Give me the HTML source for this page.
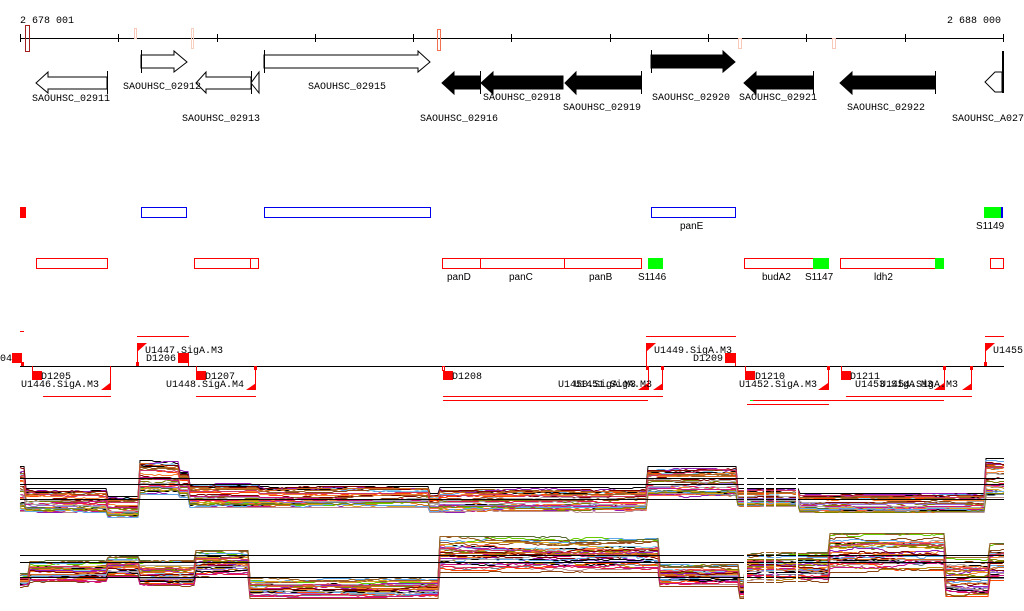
<!DOCTYPE html>
<html><head><meta charset="utf-8"><style>
html,body{margin:0;padding:0;background:#fff;}
svg{display:block;}
text{font-family:"Liberation Mono","DejaVu Sans Mono",monospace;font-size:10px;fill:#000;}
.s{font-family:"Liberation Sans",sans-serif;font-size:10px;}
</style></head><body>
<svg id="sv" width="1024" height="611" viewBox="0 0 1024 611" xmlns="http://www.w3.org/2000/svg">
<text x="20" y="23">2 678 001</text>
<text x="947" y="23">2 688 000</text>
<line x1="20" y1="38.5" x2="1004" y2="38.5" stroke="#000"/>
<g stroke="#000">
<line x1="20.5" y1="34" x2="20.5" y2="42"/><line x1="118.5" y1="34" x2="118.5" y2="42"/><line x1="217.5" y1="34" x2="217.5" y2="42"/><line x1="315.5" y1="34" x2="315.5" y2="42"/><line x1="413.5" y1="34" x2="413.5" y2="42"/><line x1="511.5" y1="34" x2="511.5" y2="42"/><line x1="610.5" y1="34" x2="610.5" y2="42"/><line x1="708.5" y1="34" x2="708.5" y2="42"/><line x1="806.5" y1="34" x2="806.5" y2="42"/><line x1="905.5" y1="34" x2="905.5" y2="42"/><line x1="1003.5" y1="34" x2="1003.5" y2="42"/>
</g>
<rect x="25.5" y="25.5" width="4" height="26" fill="none" stroke="#a02020"/>
<rect x="134.5" y="28.5" width="2" height="10" fill="none" stroke="#f8c8b8"/>
<rect x="191.5" y="28.5" width="2" height="20" fill="none" stroke="#f8d0c0"/>
<rect x="437.5" y="29.5" width="3" height="21" fill="none" stroke="#f07050"/>
<rect x="738.5" y="38.5" width="3" height="10" fill="none" stroke="#f8c8b8"/>
<rect x="832.5" y="38.5" width="3" height="10" fill="none" stroke="#f8c8b8"/>
<g stroke="#000" fill="#fff">
<polygon points="107,77 48,77 48,72 36,83 48,93 48,89 107,89"/><line x1="107.5" y1="71" x2="107.5" y2="94"/>
<polygon points="141,55 174,55 174,51 187,62 174,72 174,68 141,68"/><line x1="141.5" y1="50" x2="141.5" y2="73"/>
<polygon points="251,77 206,77 206,72 196,83 206,93 206,89 251,89"/><line x1="251.5" y1="71" x2="251.5" y2="94"/>
<polygon points="259,72 259,93 251,83"/>
<polygon points="264,55 418,55 418,51 430,62 418,72 418,68 264,68"/><line x1="264.5" y1="50" x2="264.5" y2="73"/>
<polygon points="1002,72 995,72 985,82 995,92 1002,92" /><line x1="1003" y1="51" x2="1003" y2="93" stroke-width="2"/>
</g>
<g fill="#000" stroke="#000">
<polygon points="480,76 454,76 454,72 442,83 454,94 454,89 480,89"/>
<polygon points="563,76 493,76 493,72 481,83 493,94 493,89 563,89"/><line x1="480.5" y1="71" x2="480.5" y2="94"/>
<polygon points="641,76 576,76 576,72 565,83 576,94 576,89 641,89"/><line x1="641.5" y1="71" x2="641.5" y2="94"/>
<polygon points="651,55 723,55 723,51 735,62 723,72 723,68 651,68"/><line x1="651.5" y1="50" x2="651.5" y2="73"/>
<polygon points="813,76 756,76 756,72 744,83 756,94 756,89 813,89"/><line x1="813.5" y1="71" x2="813.5" y2="94"/>
<polygon points="935,76 852,76 852,72 840,83 852,94 852,89 935,89"/><line x1="935.5" y1="71" x2="935.5" y2="94"/>
</g>
<text x="32" y="101">SAOUHSC_02911</text>
<text x="123" y="89">SAOUHSC_02912</text>
<text x="182" y="121">SAOUHSC_02913</text>
<text x="308" y="89">SAOUHSC_02915</text>
<text x="420" y="121">SAOUHSC_02916</text>
<text x="483" y="100">SAOUHSC_02918</text>
<text x="563" y="110">SAOUHSC_02919</text>
<text x="652" y="100">SAOUHSC_02920</text>
<text x="739" y="100">SAOUHSC_02921</text>
<text x="847" y="110">SAOUHSC_02922</text>
<text x="952" y="121">SAOUHSC_A027</text>
<rect x="20" y="207" width="6" height="11" fill="#f00"/>
<g fill="none" stroke="#0000ee">
<rect x="141.5" y="207.5" width="45" height="10"/><rect x="264.5" y="207.5" width="166" height="10"/><rect x="651.5" y="207.5" width="84" height="10"/>
</g>
<rect x="984" y="207" width="18" height="11" fill="#0f0"/><rect x="1001" y="207" width="2" height="11" fill="#00e"/>
<text class="s" x="680" y="229">panE</text><text class="s" x="976" y="229">S1149</text>
<g fill="none" stroke="#f00">
<rect x="36.5" y="258.5" width="71" height="10"/><rect x="194.5" y="258.5" width="56" height="10"/><rect x="250.5" y="258.5" width="8" height="10"/>
<rect x="442.5" y="258.5" width="38" height="10"/><rect x="480.5" y="258.5" width="84" height="10"/><rect x="564.5" y="258.5" width="77" height="10"/>
<rect x="744.5" y="258.5" width="69" height="10"/><rect x="840.5" y="258.5" width="95" height="10"/><rect x="990.5" y="258.5" width="13" height="10"/>
</g>
<g fill="#0f0"><rect x="648" y="258" width="15" height="11"/><rect x="813" y="258" width="16" height="11"/><rect x="935" y="258" width="9" height="11"/></g>
<text class="s" x="447" y="280">panD</text><text class="s" x="509" y="280">panC</text><text class="s" x="589" y="280">panB</text><text class="s" x="638" y="280">S1146</text>
<text class="s" x="762" y="280">budA2</text><text class="s" x="805" y="280">S1147</text><text class="s" x="874" y="280">ldh2</text>
<line x1="20" y1="366.5" x2="1004" y2="366.5" stroke="#000"/>
<g fill="#f00" stroke="none">
<rect x="20" y="331" width="4" height="1"/>
<rect x="12" y="353" width="10" height="10"/><rect x="21" y="362" width="3" height="4"/>
<rect x="32" y="371" width="10" height="9"/>
<polygon points="110,383 110,390 101,390"/>
<rect x="43" y="396" width="68" height="1"/>
<polygon points="137,343 147,343 137,352"/>
<rect x="137" y="336" width="52" height="1"/>
<rect x="178" y="353" width="10" height="10"/>
<rect x="196" y="371" width="10" height="9"/>
<polygon points="256,383 256,390 246,390"/><rect x="254" y="366" width="3" height="4"/><rect x="136" y="362" width="3" height="4"/>
<rect x="196" y="396" width="60" height="1"/>
<rect x="443" y="371" width="10" height="9"/>
<rect x="443" y="396" width="205" height="1"/><rect x="443" y="400" width="205" height="1"/>
<rect x="512" y="396" width="151" height="1"/><rect x="512" y="400" width="136" height="1"/>
<polygon points="646,343 656,343 646,352"/><rect x="646" y="336" width="90" height="1"/>
<rect x="725" y="353" width="10" height="10"/>
<polygon points="648,383 648,390 638,390"/><polygon points="663,383 663,390 653,390"/><rect x="646" y="366" width="3" height="4"/>
<rect x="745" y="371" width="10" height="9"/>
<polygon points="828,383 828,390 818,390"/><rect x="827" y="366" width="3" height="4"/>
<rect x="747" y="404" width="82" height="1"/><rect x="753" y="400" width="191" height="1"/>
<rect x="841" y="371" width="10" height="9"/>
<polygon points="944,383 944,390 934,390"/><polygon points="972,383 972,390 962,390"/><rect x="943" y="366" width="3" height="4"/>
<rect x="846" y="396" width="126" height="1"/>
<polygon points="985,343 995,343 985,352"/><rect x="985" y="336" width="19" height="1"/><rect x="984" y="362" width="3" height="4"/>
</g>
<g stroke="#f00" fill="none">
<line x1="32.5" y1="366" x2="32.5" y2="380"/><line x1="110.5" y1="366" x2="110.5" y2="390"/>
<line x1="137.5" y1="343" x2="137.5" y2="366"/><line x1="188.5" y1="353" x2="188.5" y2="366"/>
<line x1="196.5" y1="366" x2="196.5" y2="380"/><line x1="255.5" y1="366" x2="255.5" y2="390"/>
<rect x="442.5" y="366.5" width="2" height="4"/>
<line x1="646.5" y1="343" x2="646.5" y2="366"/><line x1="735.5" y1="353" x2="735.5" y2="366"/>
<line x1="648.5" y1="366" x2="648.5" y2="390"/><line x1="662.5" y1="366" x2="662.5" y2="390"/><rect x="661.5" y="366.5" width="2" height="3"/>
<line x1="745.5" y1="366" x2="745.5" y2="380"/><line x1="828.5" y1="366" x2="828.5" y2="390"/>
<line x1="841.5" y1="366" x2="841.5" y2="380"/><line x1="944.5" y1="366" x2="944.5" y2="390"/><line x1="971.5" y1="366" x2="971.5" y2="390"/><rect x="970.5" y="366.5" width="2" height="3"/>
<line x1="985.5" y1="343" x2="985.5" y2="366"/>
</g>
<rect x="750" y="400" width="3" height="1" fill="#0f0"/>
<text x="0" y="361">04</text>
<text x="41" y="379">D1205</text><text x="21" y="387">U1446.SigA.M3</text>
<text x="145" y="353">U1447.SigA.M3</text><text x="146" y="361">D1206</text>
<text x="205" y="379">D1207</text><text x="166" y="387">U1448.SigA.M4</text>
<text x="452" y="379">D1208</text>
<text x="654" y="353">U1449.SigA.M3</text><text x="693" y="361">D1209</text>
<text x="558" y="387">U1450.SigA.M3</text><text x="574" y="387">U1451.SigA.M3</text>
<text x="755" y="379">D1210</text><text x="739" y="387">U1452.SigA.M3</text>
<text x="850" y="379">D1211</text><text x="855" y="387">U1453.SigA.M3</text><text x="880" y="387">U1454.SigA.M3</text>
<text x="993" y="353">U1455</text>
<g id="plots"></g>
<g stroke="#000">
<line x1="20" y1="478.5" x2="1004" y2="478.5"/><line x1="20" y1="484.5" x2="1004" y2="484.5"/><line x1="20" y1="499.5" x2="1004" y2="499.5"/>
<line x1="20" y1="555.5" x2="1004" y2="555.5"/><line x1="20" y1="562.5" x2="1004" y2="562.5"/><line x1="20" y1="577.5" x2="1004" y2="577.5"/>
</g>
<g fill="#fff"><rect x="744" y="470" width="3" height="140"/><rect x="764" y="470" width="2" height="140"/><rect x="774" y="470" width="2" height="140"/><rect x="796" y="470" width="2" height="140"/></g>
</svg>
<script>
(function(){
var top=[[20,466,512],[25,488,512],[107,496,517],[140,460,494],[180,470,497],[190,483,507],[260,486,507],[430,493,512],[440,487,512],[648,466,497],[738,488,506],[800,493,512],[985,458,497],[1004,458,497]];
var bot=[[20,573,587],[30,560,584],[107,556,578],[140,560,587],[195,550,577],[250,577,598],[440,536,572],[660,563,586],[740,578,598],[745,552,582],[830,533,572],[945,557,598],[990,543,582],[1004,543,582]];
var cols=["#e6194b","#66cc00","#8b4513","#5fa8e8","#f58231","#911eb4","#c71585","#9a6324","#808000","#800000","#aaaaaa","#d2691e","#cc3366","#a0522d","#b8860b","#ff6347","#556b2f","#87ceeb","#bc8f8f","#708090","#ff4500","#daa520","#9370db"];
var seed=11;function r(){seed=(seed*16807)%2147483647;return seed/2147483647;}
function seg(p,x){for(var i=0;i<p.length-1;i++){if(x<p[i+1][0])return p[i];}return p[p.length-2];}
var g=document.getElementById("plots"),ns="http://www.w3.org/2000/svg";
[top,bot].forEach(function(p,pi){
 for(var k=0;k<36;k++){
  var t=pi==0?Math.pow(r(),0.6):r(),pts=[],n=0;
  for(var x=20;x<=1004;x+=2){if(r()<0.4){n+=(r()-0.5)*0.07;if(n>0.12)n=0.12;if(n<-0.12)n=-0.12;}
   var s=seg(p,x),tt=Math.min(1,Math.max(0,t+n));var y=Math.round(s[1]+tt*(s[2]-s[1]))+0.5;
   pts.push(x+","+y);}
  var pl=document.createElementNS(ns,"polyline");
  pl.setAttribute("points",pts.join(" "));pl.setAttribute("fill","none");
  pl.setAttribute("stroke",k%12==0?"#000":cols[k%cols.length]);pl.setAttribute("stroke-width","1");
  g.appendChild(pl);}
});
})();
</script>
</body></html>
